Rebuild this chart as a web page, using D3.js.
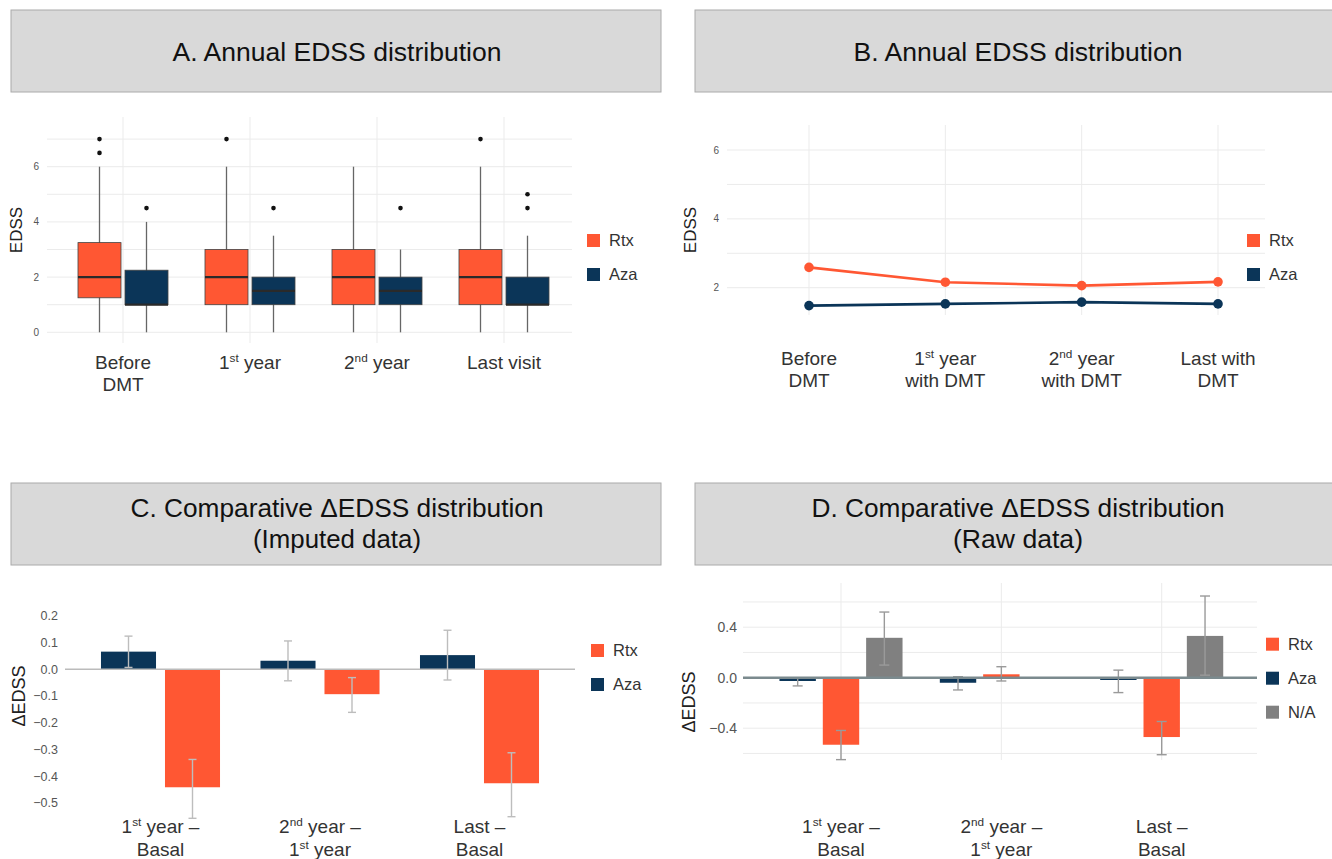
<!DOCTYPE html>
<html lang="en">
<head>
<meta charset="UTF-8">
<title>EDSS panels</title>
<script src="https://cdn.jsdelivr.net/npm/d3@7"></script>
<style>
  body { margin: 0; background: #fff; }
  svg { font-family: "Liberation Sans", Arial, sans-serif; }
  .grid line { stroke: #ebebeb; stroke-width: 1; }
</style>
</head>
<body>
<svg id="fig" width="1332" height="859"></svg>
<script>
var colRtx = "#ff5733", colAza = "#0b3558", colNA = "#808080";

// A. boxplots: [lower whisker, q1, median, q3, upper whisker]
var boxCats = ["Before|DMT", "1{st} year", "2{nd} year", "Last visit"];
var rtxBox = [[0, 1.25, 2, 3.25, 6], [0, 1, 2, 3, 6], [0, 1, 2, 3, 6], [0, 1, 2, 3, 6]];
var rtxOut = [[6.5, 7], [7], [], [7]];
var azaBox = [[0, 1, 1, 2.25, 4], [0, 1, 1.5, 2, 3.5], [0, 1, 1.5, 2, 3], [0, 1, 1, 2, 3.5]];
var azaOut = [[4.5], [4.5], [4.5], [4.5, 5]];
var edssTicksA = [0, 2, 4, 6];

// B. mean EDSS per period
var lineCats = ["Before|DMT", "1{st} year|with DMT", "2{nd} year|with DMT", "Last with|DMT"];
var rtxMean = [2.59, 2.16, 2.06, 2.17];
var azaMean = [1.48, 1.53, 1.58, 1.53];
var edssTicksB = [2, 4, 6];

// C. imputed delta EDSS
var deltaCats = ["1{st} year –|Basal", "2{nd} year –|1{st} year", "Last –|Basal"];
var impAza = [0.066, 0.032, 0.053];
var impAzaLo = [0.007, -0.043, -0.040];
var impAzaHi = [0.124, 0.106, 0.146];
var impRtx = [-0.441, -0.093, -0.426];
var impRtxLo = [-0.557, -0.161, -0.551];
var impRtxHi = [-0.337, -0.031, -0.312];
var deltaTicksC = [-0.5, -0.4, -0.3, -0.2, -0.1, 0, 0.1, 0.2];

// D. raw delta EDSS
var rawAza = [-0.026, -0.040, -0.018];
var rawAzaLo = [-0.065, -0.097, -0.118];
var rawAzaHi = [0.0, 0.008, 0.06];
var rawRtx = [-0.531, 0.027, -0.47];
var rawRtxLo = [-0.649, -0.026, -0.61];
var rawRtxHi = [-0.418, 0.087, -0.347];
var rawNA = [0.316, null, 0.331];
var rawNALo = [0.10, null, 0.02];
var rawNAHi = [0.52, null, 0.647];
var deltaTicksD = [-0.4, 0, 0.4];

var svg = d3.select("#fig");

// label with "|" for new lines and {..} for superscript
function label(g, x, y, str, size, lineH) {
  str.split("|").forEach(function (line, i) {
    var t = g.append("text").attr("x", x).attr("y", y + i * lineH)
      .attr("text-anchor", "middle").attr("font-size", size).attr("fill", "#333");
    var parts = line.split(/(\{[^}]*\})/).filter(function (s) { return s.length; });
    var up = false;
    parts.forEach(function (p) {
      if (p[0] == "{") {
        t.append("tspan").attr("font-size", size * 0.62).attr("dy", -size * 0.38).text(p.slice(1, -1));
        up = true;
      } else {
        var s = t.append("tspan").text(p);
        if (up) { s.attr("dy", size * 0.38); up = false; }
      }
    });
  });
}

function titleBox(x, w, y, h, lines, cx, base) {
  svg.append("rect").attr("x", x).attr("y", y).attr("width", w).attr("height", h)
    .attr("fill", "#d9d9d9").attr("stroke", "#aaa").attr("stroke-width", 1);
  lines.forEach(function (l, i) {
    svg.append("text").attr("x", cx).attr("y", base + i * 31)
      .attr("text-anchor", "middle").attr("font-size", 26).attr("fill", "#111")
      .attr("textLength", l[1]).attr("lengthAdjust", "spacingAndGlyphs").text(l[0]);
  });
}

function yTicks(g, y, vals, x, size, fmt) {
  g.selectAll(null).data(vals).enter().append("text")
    .attr("x", x).attr("y", function (d) { return y(d); }).attr("dy", "0.35em")
    .attr("text-anchor", "end").attr("font-size", size).attr("fill", "#555")
    .text(fmt);
}

function hGrid(g, y, vals, x0, x1) {
  g.append("g").attr("class", "grid").selectAll("line").data(vals).enter().append("line")
    .attr("x1", x0).attr("x2", x1)
    .attr("y1", function (d) { return y(d); }).attr("y2", function (d) { return y(d); });
}

function vGrid(g, xs, y0, y1) {
  g.append("g").attr("class", "grid").selectAll("line").data(xs).enter().append("line")
    .attr("x1", function (d) { return d; }).attr("x2", function (d) { return d; })
    .attr("y1", y0).attr("y2", y1);
}

function yTitle(x, y, txt, size) {
  svg.append("text").attr("transform", "translate(" + x + "," + y + ") rotate(-90)")
    .attr("text-anchor", "middle").attr("dy", "0.35em").attr("font-size", size)
    .attr("fill", "#222").text(txt);
}

function legend(x, y, items, step) {
  var g = svg.append("g");
  items.forEach(function (it, i) {
    g.append("rect").attr("x", x).attr("y", y + i * step - 6.5).attr("width", 13).attr("height", 13)
      .attr("fill", it[1]);
    g.append("text").attr("x", x + 22).attr("y", y + i * step).attr("dy", "0.35em")
      .attr("font-size", 16.5).attr("fill", "#333").text(it[0]);
  });
}

// titles
titleBox(11, 650, 10, 82, [["A. Annual EDSS distribution", 329]], 337, 61);
titleBox(695, 650, 10, 82, [["B. Annual EDSS distribution", 329]], 1018, 61);
titleBox(11, 650, 483, 82, [["C. Comparative ΔEDSS distribution", 413], ["(Imputed data)", 168]], 337, 517);
titleBox(695, 650, 483, 82, [["D. Comparative ΔEDSS distribution", 413], ["(Raw data)", 130]], 1018, 517);

// ---------- A ----------
(function () {
  var g = svg.append("g");
  var x = d3.scalePoint().domain(d3.range(boxCats.length)).range([123, 504]);
  var y = d3.scaleLinear().domain([0, 6]).range([332.3, 166.7]);
  var dodge = d3.scaleBand().domain(["Rtx", "Aza"]).range([-47, 47]).paddingInner(0.085).paddingOuter(0.0425);
  hGrid(g, y, d3.range(0, 8), 47, 572);
  vGrid(g, x.domain().map(x), 117, 343);
  yTicks(g, y, edssTicksA, 39, 10, d3.format("d"));

  [["Rtx", rtxBox, rtxOut, colRtx], ["Aza", azaBox, azaOut, colAza]].forEach(function (s) {
    var bw = dodge.bandwidth();
    var b = g.selectAll(null).data(s[1]).enter().append("g")
      .attr("transform", function (d, i) { return "translate(" + (x(i) + dodge(s[0])) + ",0)"; });
    b.append("line").attr("x1", bw / 2).attr("x2", bw / 2)
      .attr("y1", function (d) { return y(d[0]); }).attr("y2", function (d) { return y(d[4]); })
      .attr("stroke", "#666").attr("stroke-width", 1.3);
    b.append("rect").attr("width", bw)
      .attr("y", function (d) { return y(d[3]); })
      .attr("height", function (d) { return y(d[1]) - y(d[3]); })
      .attr("fill", s[3]).attr("stroke", "#444").attr("stroke-width", 0.8);
    b.append("line").attr("x1", 0).attr("x2", bw)
      .attr("y1", function (d) { return y(d[2]); }).attr("y2", function (d) { return y(d[2]); })
      .attr("stroke", "#2a2a2a").attr("stroke-width", 2.2);
    b.each(function (d, i) {
      d3.select(this).selectAll("circle").data(s[2][i]).enter().append("circle")
        .attr("cx", bw / 2).attr("cy", function (v) { return y(v); }).attr("r", 2.3).attr("fill", "#111");
    });
  });

  boxCats.forEach(function (c, i) { label(g, x(i), 369, c, 19, 22); });
  yTitle(16, 230, "EDSS", 17);
  legend(587, 240.5, [["Rtx", colRtx], ["Aza", colAza]], 34);
})();

// ---------- B ----------
(function () {
  var g = svg.append("g");
  var x = d3.scalePoint().domain(d3.range(lineCats.length)).range([809, 1218]);
  var y = d3.scaleLinear().domain([2, 6]).range([287.7, 150]);
  hGrid(g, y, d3.range(2, 7), 727, 1265);
  vGrid(g, x.domain().map(x), 125, 315);
  yTicks(g, y, edssTicksB, 719, 10, d3.format("d"));
  var line = d3.line().x(function (d, i) { return x(i); }).y(function (d) { return y(d); });
  [[rtxMean, colRtx], [azaMean, colAza]].forEach(function (s) {
    g.append("path").datum(s[0]).attr("d", line).attr("fill", "none")
      .attr("stroke", s[1]).attr("stroke-width", 2.6);
    g.selectAll(null).data(s[0]).enter().append("circle")
      .attr("cx", function (d, i) { return x(i); }).attr("cy", function (d) { return y(d); })
      .attr("r", 4.8).attr("fill", s[1]);
  });
  lineCats.forEach(function (c, i) { label(g, x(i), 365, c, 19, 22); });
  yTitle(690, 230, "EDSS", 17);
  legend(1247, 240.5, [["Rtx", colRtx], ["Aza", colAza]], 34);
})();

// error bar helper
function errBars(g, x, y, off, lo, hi, cap, col) {
  lo.forEach(function (l, i) {
    if (l == null) return;
    var cx = x(i) + off, y0 = y(l), y1 = y(hi[i]);
    g.append("line").attr("x1", cx).attr("x2", cx).attr("y1", y0).attr("y2", y1).attr("stroke", col).attr("stroke-width", 1.4);
    [y0, y1].forEach(function (yy) {
      g.append("line").attr("x1", cx - cap / 2).attr("x2", cx + cap / 2).attr("y1", yy).attr("y2", yy)
        .attr("stroke", col).attr("stroke-width", 1.4);
    });
  });
}

function bars(g, x, y, key, dodge, vals, col) {
  g.selectAll(null).data(vals).enter().filter(function (d) { return d != null; }).append("rect")
    .attr("x", function (d) { return x(vals.indexOf(d)) + dodge(key); })
    .attr("width", dodge.bandwidth())
    .attr("y", function (d) { return y(Math.max(0, d)); })
    .attr("height", function (d) { return Math.abs(y(d) - y(0)); })
    .attr("fill", col);
}

// ---------- C ----------
(function () {
  var g = svg.append("g");
  var x = d3.scalePoint().domain(d3.range(deltaCats.length)).range([160.5, 479.5]);
  var y = d3.scaleLinear().domain([0, 0.2]).range([669.3, 615.8]);
  var dodge = d3.scaleBand().domain(["Aza", "Rtx"]).range([-64, 64]).paddingInner(0.14).paddingOuter(0.07);
  yTicks(g, y, deltaTicksC, 58, 12.5, d3.format(".1f"));
  bars(g, x, y, "Aza", dodge, impAza, colAza);
  bars(g, x, y, "Rtx", dodge, impRtx, colRtx);
  g.append("line").attr("x1", 65).attr("x2", 575).attr("y1", y(0)).attr("y2", y(0))
    .attr("stroke", "#bbb").attr("stroke-width", 1.5);
  var bw = dodge.bandwidth() / 2;
  errBars(g, x, y, dodge("Aza") + bw, impAzaLo, impAzaHi, 8, "#bdbdbd");
  errBars(g, x, y, dodge("Rtx") + bw, impRtxLo, impRtxHi, 8, "#bdbdbd");
  deltaCats.forEach(function (c, i) { label(g, x(i), 833, c, 19, 23); });
  yTitle(19, 696, "ΔEDSS", 18);
  legend(591, 650.5, [["Rtx", colRtx], ["Aza", colAza]], 34);
})();

// ---------- D ----------
(function () {
  var g = svg.append("g");
  var x = d3.scalePoint().domain(d3.range(deltaCats.length)).range([841, 1161.7]);
  var y = d3.scaleLinear().domain([0, 0.4]).range([677.7, 627.2]);
  var dodge = d3.scaleBand().domain(["Aza", "Rtx", "NA"]).range([-65, 65]).paddingInner(0.16).paddingOuter(0.08);
  hGrid(g, y, [-0.6, -0.4, -0.2, 0.2, 0.4, 0.6], 743, 1257);
  vGrid(g, x.domain().map(x), 583, 760);
  yTicks(g, y, deltaTicksD, 737, 14, d3.format(".1f"));
  bars(g, x, y, "Aza", dodge, rawAza, colAza);
  bars(g, x, y, "Rtx", dodge, rawRtx, colRtx);
  bars(g, x, y, "NA", dodge, rawNA, colNA);
  var bw = dodge.bandwidth() / 2;
  errBars(g, x, y, dodge("Aza") + bw, rawAzaLo, rawAzaHi, 10, "#9a9a9a");
  errBars(g, x, y, dodge("Rtx") + bw, rawRtxLo, rawRtxHi, 10, "#9a9a9a");
  errBars(g, x, y, dodge("NA") + bw, rawNALo, rawNAHi, 10, "#9a9a9a");
  g.append("line").attr("x1", 743).attr("x2", 1257).attr("y1", y(0)).attr("y2", y(0))
    .attr("stroke", "#7b8a8e").attr("stroke-width", 2.6);
  deltaCats.forEach(function (c, i) { label(g, x(i), 833, c, 19, 23); });
  yTitle(689, 702, "ΔEDSS", 18);
  legend(1266, 644.2, [["Rtx", colRtx], ["Aza", colAza], ["N/A", colNA]], 34);
})();
</script>
</body>
</html>
